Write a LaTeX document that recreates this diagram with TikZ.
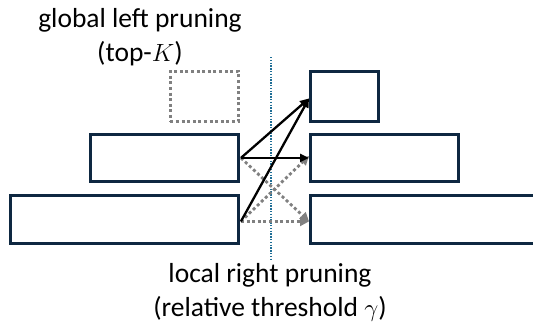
\documentclass[tikz,border=0pt]{standalone}
\usepackage{fontspec}
\setmainfont{Carlito}
\usetikzlibrary{arrows.meta}
\definecolor{boxc}{HTML}{0E2841}
\definecolor{gridc}{HTML}{1F6E96}
\definecolor{prunec}{HTML}{808080}
\tikzset{
  blk/.style={draw=boxc, line width=2.9pt, fill=white},
  prunedbox/.style={draw=prunec, line width=2.7pt, dash pattern=on 3pt off 2.6pt},
  keep/.style={draw=black, line width=2.3pt, -{Triangle[length=9pt,width=8pt]}},
  drop/.style={draw=prunec, line width=2.8pt, dash pattern=on 3pt off 2.6pt, -{Triangle[length=9pt,width=9pt,fill=prunec]}},
  lbl/.style={align=center, font=\fontsize{27.5}{34}\selectfont, inner sep=0pt}
}
\begin{document}
\begin{tikzpicture}[x=1pt,y=-1pt]
\useasboundingbox (0,0) rectangle (533,324);
% divider
\draw[gridc, line width=1.1pt, dash pattern=on 1.4pt off 1.4pt] (271,57) -- (271,260);
% left boxes
\node[prunedbox, minimum width=68pt, minimum height=50pt, anchor=north west] (lt) at (169,70) {};
\node[blk, minimum width=148pt, minimum height=47pt, anchor=north west] (lm) at (89,133) {};
\node[blk, minimum width=228pt, minimum height=48pt, anchor=north west] (lb) at (9,194) {};
% right boxes
\node[blk, minimum width=68pt, minimum height=50pt, anchor=north west] (rt) at (309,70) {};
\node[blk, minimum width=148pt, minimum height=47pt, anchor=north west] (rm) at (309,133) {};
\node[blk, minimum width=240pt, minimum height=48pt, anchor=north west] (rb) at (309,194) {};
% anchor points
\coordinate (lmo) at ([xshift=1pt]lm.east);
\coordinate (lbo) at ([xshift=1pt,yshift=-2pt]lb.east);
\coordinate (rti) at ([yshift=-2pt]rt.west);
\coordinate (rmi) at ([yshift=0pt]rm.west);
\coordinate (rbi) at ([yshift=-2pt]rb.west);
% pruned connections
\draw[drop] (lmo) -- (rbi);
\draw[drop] (lbo) -- ([yshift=2pt]rmi);
\draw[drop] (lbo) -- (rbi);
% kept connections
\draw[keep] (lmo) -- (rti);
\draw[keep] (lbo) -- (rti);
\draw[keep] (lmo) -- (rmi);
% labels
\node[lbl] (top) at (140,37) {global left pruning\\(top-$K$)};
\node[lbl] (bot) at (270,292) {local right pruning\\(relative threshold $\gamma$)};
\end{tikzpicture}
\end{document}
